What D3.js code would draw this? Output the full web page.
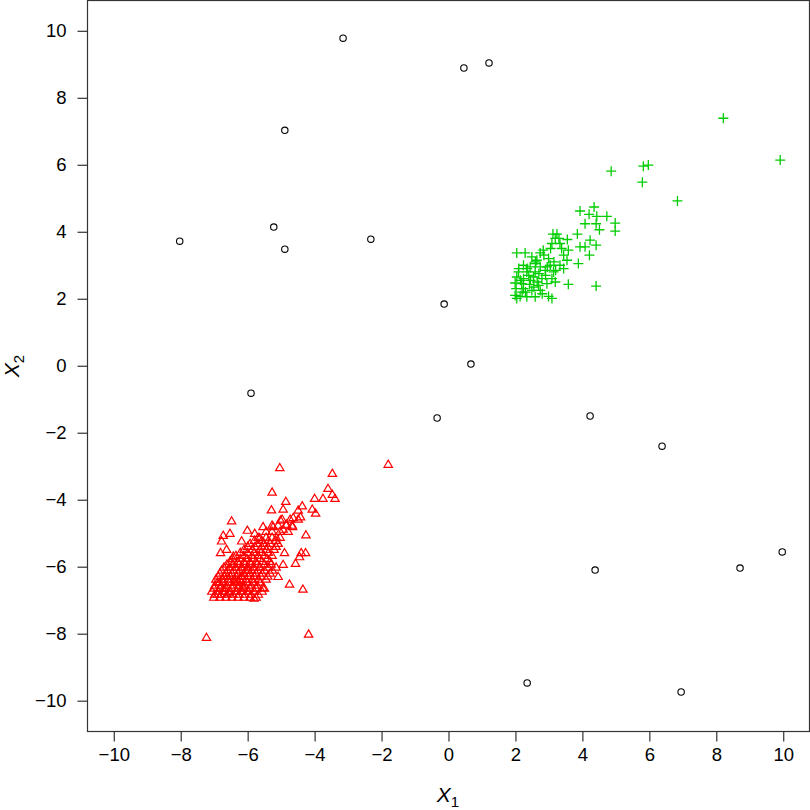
<!DOCTYPE html>
<html>
<head>
<meta charset="utf-8">
<script src="https://cdn.jsdelivr.net/npm/d3@7"></script>
<style>
  body { margin: 0; background: #fff; }
  text { font-family: "Liberation Sans", Arial, sans-serif; fill: #000; }
</style>
</head>
<body>
<svg id="chart" width="810" height="810"></svg>
<script>
// tick values (both axes)
const ticks = [-10, -8, -6, -4, -2, 0, 2, 4, 6, 8, 10];

// outliers (open circles)
const noiseX = [-3.15, 0.46, 1.21, -4.89, -8.03, -5.22, -4.89, -2.32, -0.13, 0.67, -5.9, -0.34, 4.23, 6.38, 9.97, 8.71, 4.38, 2.35, 6.95];
const noiseY = [9.78, 8.89, 9.04, 7.03, 3.72, 4.14, 3.48, 3.78, 1.84, 0.05, -0.82, -1.56, -1.5, -2.4, -5.56, -6.04, -6.1, -9.47, -9.74];

// cluster 1 (red triangles)
const redX = [
  -7.01, -6.83, -6.65, -6.47, -6.29, -6.11, -5.93, -5.75,
  -7.07, -6.89, -6.71, -6.53, -6.35, -6.17, -5.99, -5.81, -5.57,
  -6.98, -6.80, -6.62, -6.44, -6.26, -6.08, -5.90, -5.72,
  -6.95, -6.77, -6.59, -6.41, -6.23, -6.05, -5.87, -5.69, -5.45,
  -6.83, -6.65, -6.47, -6.29, -6.11, -5.93, -5.75, -5.57, -5.33,
  -6.71, -6.53, -6.35, -6.17, -5.99, -5.81, -5.63, -5.39, -5.15,
  -6.53, -6.29, -6.11, -5.93, -5.75, -5.57, -5.33,
  -6.35, -6.11, -5.87, -5.69, -5.51, -5.27,
  -6.11, -5.87, -5.63, -5.45, -5.21,
  -5.93, -5.69, -5.51, -5.33, -5.09,
  -5.69, -5.45, -5.27, -5.03,
  -5.45, -5.27, -5.03, -4.79,
  -5.27, -5.09, -4.85, -4.67,
  -4.97, -4.73, -4.49,
  -5.04, -1.80, -3.47, -5.27, -4.86, -3.60, -3.47, -3.75, -3.39, -4.00,
  -4.37, -4.49, -4.07, -3.97, -5.29, -4.94, -4.42, -4.64, -5.02, -6.48,
  -5.54, -5.24, -4.84, -4.66, -4.94, -6.01, -5.79, -6.53, -6.73, -4.26,
  -6.78, -6.18, -5.64, -5.14, -6.63, -6.81, -6.43, -4.90, -4.40, -4.27,
  -4.45, -4.57, -4.94, -5.09, -4.75, -4.35, -5.55, -5.81, -7.23, -4.18,
  -6.90, -6.70, -6.40, -6.20, -6.00, -6.55, -6.30, -6.85, -6.60, -6.15,
  -6.98, -6.80, -6.62, -6.44, -6.26, -6.08, -5.90, -5.68,
  -7.00, -6.82, -6.64, -6.46, -6.28, -6.10, -5.92, -5.74, -5.50,
  -6.90, -6.72, -6.54, -6.36, -6.18, -6.00, -5.82, -5.62,
  -6.88, -6.70, -6.52, -6.34, -6.16, -5.98, -5.80, -5.60, -5.40,
  -6.78, -6.60, -6.42, -6.24, -6.06, -5.88, -5.70, -5.50, -5.26,
  -6.62, -6.44, -6.26, -6.08, -5.90, -5.72, -5.50, -5.30,
  -6.45, -6.22, -6.02, -5.84, -5.64, -5.42,
  -6.22, -6.00, -5.80, -5.60, -5.38,
  -6.00, -5.78, -5.58, -5.40, -5.15,
  -5.80, -5.58, -5.38, -5.16
];
const redY = [
  -6.93, -6.93, -6.93, -6.93, -6.93, -6.93, -6.93, -6.93,
  -6.75, -6.75, -6.75, -6.75, -6.75, -6.75, -6.75, -6.75, -6.75,
  -6.57, -6.57, -6.57, -6.57, -6.57, -6.57, -6.57, -6.57,
  -6.39, -6.39, -6.39, -6.39, -6.39, -6.39, -6.39, -6.39, -6.39,
  -6.21, -6.21, -6.21, -6.21, -6.21, -6.21, -6.21, -6.21, -6.21,
  -6.03, -6.03, -6.03, -6.03, -6.03, -6.03, -6.03, -6.03, -6.03,
  -5.86, -5.86, -5.86, -5.86, -5.86, -5.86, -5.86,
  -5.68, -5.68, -5.68, -5.68, -5.68, -5.68,
  -5.50, -5.50, -5.50, -5.50, -5.50,
  -5.32, -5.32, -5.32, -5.32, -5.32,
  -5.14, -5.14, -5.14, -5.14,
  -4.96, -4.96, -4.96, -4.96,
  -4.78, -4.78, -4.78, -4.78,
  -4.60, -4.60, -4.60,
  -3.06, -2.96, -3.23, -3.79, -4.07, -3.68, -3.86, -3.98, -3.98, -3.98,
  -4.20, -4.33, -4.30, -4.42, -4.32, -4.30, -4.53, -4.55, -4.63, -4.65,
  -4.82, -4.82, -4.75, -4.82, -4.90, -4.93, -5.02, -5.02, -5.08, -5.07,
  -5.25, -5.25, -5.15, -5.15, -5.50, -5.60, -5.70, -5.60, -5.60, -5.60,
  -5.72, -5.92, -5.95, -6.31, -6.54, -6.69, -6.64, -6.96, -8.13, -8.03,
  -6.84, -6.66, -6.48, -6.30, -6.12, -6.80, -6.44, -6.48, -6.30, -6.62,
  -6.84, -6.84, -6.84, -6.84, -6.84, -6.84, -6.84, -6.84,
  -6.66, -6.66, -6.66, -6.66, -6.66, -6.66, -6.66, -6.66, -6.66,
  -6.48, -6.48, -6.48, -6.48, -6.48, -6.48, -6.48, -6.48,
  -6.30, -6.30, -6.30, -6.30, -6.30, -6.30, -6.30, -6.30, -6.30,
  -6.12, -6.12, -6.12, -6.12, -6.12, -6.12, -6.12, -6.12, -6.12,
  -5.94, -5.94, -5.94, -5.94, -5.94, -5.94, -5.94, -5.94,
  -5.77, -5.77, -5.77, -5.77, -5.77, -5.77,
  -5.59, -5.59, -5.59, -5.59, -5.59,
  -5.41, -5.41, -5.41, -5.41, -5.41,
  -5.23, -5.23, -5.23, -5.23
];

// cluster 2 (green pluses)
const greenX = [
  3.93, 4.35, 4.20, 4.43, 4.73, 4.98, 4.98, 4.08, 4.41, 4.51,
  3.85, 4.23, 4.41, 3.93, 4.08, 4.21, 3.88, 3.58, 4.41, 3.12,
  3.24, 3.19, 3.55, 3.09, 3.33, 3.38, 3.58, 2.04, 2.29, 2.74,
  2.83, 2.49, 3.44, 3.54, 2.64, 2.99, 2.24, 2.44, 2.74, 3.04,
  3.33, 3.44, 2.09, 2.34, 2.59, 2.89, 3.14, 2.04, 2.24, 2.54,
  2.79, 3.09, 1.99, 2.19, 2.42, 2.69, 2.94, 3.19, 2.02, 2.24,
  2.49, 2.74, 1.99, 2.14, 2.34, 2.59, 2.99, 3.09, 2.04,
  8.21, 9.91, 5.82, 5.97, 5.79, 6.84, 4.86,
  2.15, 2.40, 2.65, 2.90, 2.30, 2.55, 2.80, 2.10, 2.60, 3.20,
  2.20, 2.45, 2.70, 2.95, 3.15, 2.35, 2.60, 2.85, 3.05, 3.30
];
const greenY = [
  4.62, 4.74, 4.52, 4.46, 4.46, 4.26, 4.02, 4.24, 4.24, 4.06,
  3.93, 3.75, 3.60, 3.55, 3.55, 3.30, 3.05, 2.43, 2.38, 3.93,
  3.93, 3.80, 3.77, 3.65, 3.65, 3.50, 3.45, 3.37, 3.37, 3.37,
  3.45, 3.25, 3.30, 3.15, 3.15, 3.20, 3.00, 2.95, 2.95, 3.00,
  3.00, 2.90, 2.80, 2.80, 2.80, 2.85, 2.80, 2.65, 2.60, 2.65,
  2.60, 2.60, 2.47, 2.45, 2.43, 2.40, 2.45, 2.50, 2.30, 2.30,
  2.25, 2.25, 2.10, 2.07, 2.06, 2.06, 2.07, 2.01, 2.01,
  7.39, 6.14, 5.96, 5.99, 5.48, 4.92, 5.81,
  2.55, 2.70, 2.50, 2.70, 2.20, 2.35, 2.15, 2.90, 3.05, 2.85,
  2.20, 2.55, 2.75, 2.95, 3.10, 2.90, 3.10, 3.30, 3.50, 3.80
];

const svg = d3.select("#chart");
const x = d3.scaleLinear().domain([-10.8, 10.8]).range([87, 810]);
const y = d3.scaleLinear().domain([-10.92, 10.92]).range([731.5, 0]);
const axisColor = "#333";

//--AXES
svg.append("g")
  .attr("transform", "translate(0,731.5)")
  .call(d3.axisBottom(x).tickValues(ticks).tickSize(10).tickPadding(6)
    .tickFormat((d) => String(d).replace("-", "\u2212")))
  .call((g) => g.select(".domain").remove())
  .call((g) => g.selectAll("line").attr("stroke", axisColor).attr("stroke-width", 1.2))
  .call((g) => g.selectAll("text").attr("font-size", "18.5px").attr("dy", "0.72em")
    .style("font-family", "'Liberation Sans', Arial, sans-serif").attr("fill", "#000"));

svg.append("g")
  .attr("transform", "translate(87.5,0)")
  .call(d3.axisLeft(y).tickValues(ticks).tickSize(10).tickPadding(11)
    .tickFormat((d) => String(d).replace("-", "\u2212")))
  .call((g) => g.select(".domain").remove())
  .call((g) => g.selectAll("line").attr("stroke", axisColor).attr("stroke-width", 1.2))
  .call((g) => g.selectAll("text").attr("font-size", "18.5px")
    .style("font-family", "'Liberation Sans', Arial, sans-serif").attr("fill", "#000"));

//--BOX
svg.append("rect")
  .attr("x", 87.5).attr("y", 0.5)
  .attr("width", 809.5 - 87.5).attr("height", 731)
  .attr("fill", "none").attr("stroke", axisColor).attr("stroke-width", 1.2);

//--AXIS TITLES
const xt = svg.append("text").attr("x", 448).attr("y", 802)
  .attr("text-anchor", "middle").attr("font-size", "21px");
xt.append("tspan").attr("font-style", "italic").text("X");
xt.append("tspan").attr("font-size", "15px").attr("dy", 5).text("1");

const yt = svg.append("text").attr("transform", "translate(19,366) rotate(-90)")
  .attr("text-anchor", "middle").attr("font-size", "21px");
yt.append("tspan").attr("font-style", "italic").text("X");
yt.append("tspan").attr("font-size", "15px").attr("dy", 5).text("2");

//--POINTS
const plot = svg.append("g");

plot.selectAll(".noise")
  .data(d3.zip(noiseX, noiseY))
  .enter()
  .append("circle")
  .attr("class", "noise")
  .attr("cx", (d) => x(d[0]))
  .attr("cy", (d) => y(d[1]))
  .attr("r", 3.2)
  .attr("fill", "none")
  .attr("stroke", "#000")
  .attr("stroke-width", 1.1);

plot.selectAll(".tri")
  .data(d3.zip(redX, redY))
  .enter()
  .append("path")
  .attr("class", "tri")
  .attr("d", "M0,-4.8L4.2,2.4L-4.2,2.4Z")
  .attr("transform", (d) => `translate(${x(d[0])},${y(d[1])})`)
  .attr("fill", "none")
  .attr("stroke", "#FF0000")
  .attr("stroke-width", 1.2);

plot.selectAll(".plus")
  .data(d3.zip(greenX, greenY))
  .enter()
  .append("path")
  .attr("class", "plus")
  .attr("d", "M-5,0H5M0,-5V5")
  .attr("transform", (d) => `translate(${x(d[0])},${y(d[1])})`)
  .attr("fill", "none")
  .attr("stroke", "#00CD00")
  .attr("stroke-width", 1.3);
</script>
</body>
</html>
